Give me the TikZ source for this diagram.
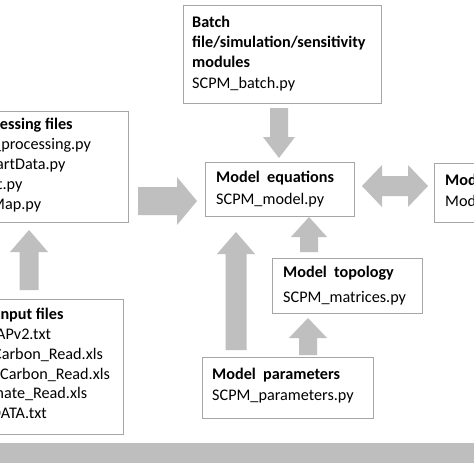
\documentclass[tikz,border=0pt]{standalone}
\usepackage{fontspec}
\setmainfont{Carlito}
\definecolor{boxc}{HTML}{A6A6A6}
\definecolor{arrc}{HTML}{BFBFBF}
\definecolor{barc}{HTML}{BEBEBE}
\newcommand\blkup[6]{\fill[arr] ({#1-#4},#3) -- ({#1-#4},{#2+#6}) -- ({#1-#5},{#2+#6}) -- (#1,#2) -- ({#1+#5},{#2+#6}) -- ({#1+#4},{#2+#6}) -- ({#1+#4},#3) -- cycle;}
\newcommand\blkdown[6]{\fill[arr] ({#1-#4},#2) -- ({#1-#4},{#3-#6}) -- ({#1-#5},{#3-#6}) -- (#1,#3) -- ({#1+#5},{#3-#6}) -- ({#1+#4},{#3-#6}) -- ({#1+#4},#2) -- cycle;}
\newcommand\blkright[6]{\fill[arr] (#2,{#1-#4}) -- ({#3-#6},{#1-#4}) -- ({#3-#6},{#1-#5}) -- (#3,#1) -- ({#3-#6},{#1+#5}) -- ({#3-#6},{#1+#4}) -- (#2,{#1+#4}) -- cycle;}
\newcommand\blkdouble[6]{\fill[arr] (#2,#1) -- ({#2+#6},{#1-#5}) -- ({#2+#6},{#1-#4}) -- ({#3-#6},{#1-#4}) -- ({#3-#6},{#1-#5}) -- (#3,#1) -- ({#3-#6},{#1+#5}) -- ({#3-#6},{#1+#4}) -- ({#2+#6},{#1+#4}) -- ({#2+#6},{#1+#5}) -- cycle;}
\begin{document}
\begin{tikzpicture}[x=1pt,y=-1pt,
  box/.style={draw=boxc, line width=0.9pt, fill=white, anchor=north west, inner sep=0pt},
  txt/.style={anchor=base west, inner sep=0pt, font=\fontsize{16.2}{19}\selectfont},
  bt/.style={anchor=base west, inner sep=0pt, font=\fontsize{16.2}{19}\selectfont\bfseries},
  arr/.style={fill=arrc}]
\useasboundingbox (0,0) rectangle (474,474);
\fill[white] (0,0) rectangle (474,474);
\clip (0,0) rectangle (474,474);

% block arrows
\blkright{201}{138}{197}{14}{24}{20}
\blkdown{279}{108}{158}{9}{16}{21}
\blkdouble{186}{362}{428}{10}{21}{20}
\blkup{236}{232}{350}{10.5}{19}{22}
\blkup{309}{217}{252}{9}{18}{20}
\blkup{308}{318}{355}{9}{19}{20}
\blkup{29}{230}{290}{9.5}{19}{22}

% boxes
\node[box, minimum width=198pt, minimum height=98pt] (batch) at (183,5) {};
\node[box, minimum width=133pt, minimum height=111pt] (pre) at (-5,111) {};
\node[box, minimum width=149pt, minimum height=54pt] (eq) at (205,162) {};
\node[box, minimum width=60pt, minimum height=59pt] (out) at (434,163) {};
\node[box, minimum width=150pt, minimum height=55pt] (topo) at (272,258) {};
\node[box, minimum width=171pt, minimum height=61pt] (par) at (202,357) {};
\node[box, minimum width=128pt, minimum height=135pt] (inp) at (-5,299) {};
\fill[barc] (0,443) rectangle (474,463);

% batch text
\node[bt] (b1) at (192,27) {Batch};
\node[bt] (b2) at (192,47) {file/simulation/sensitivity};
\node[bt] (b3) at (192,67) {modules};
\node[txt] (b4) at (192,88) {SCPM\_batch.py};

% model equations
\node[bt] (e1) at (216,182) {Model~ equations};
\node[txt] (e2) at (216,204) {SCPM\_model.py};

% topology
\node[bt] (t1) at (283,277) {Model~ topology};
\node[txt] (t2) at (283,302) {SCPM\_matrices.py};

% parameters
\node[bt] (p1) at (212,379) {Model~ parameters};
\node[txt] (p2) at (212,400) {SCPM\_parameters.py};

% right box
\node[bt] (o1) at (445,185) {Model};
\node[txt] (o2) at (445,206) {Model};

% preprocessing (cut at left)
\node[bt] (r1) at (-7,129) {cessing files};
\node[txt] (r2) at (-7,149) {\_processing.py};
\node[txt] (r3) at (-4,169) {artData.py};
\node[txt] (r4) at (-3,189) {t.py};
\node[txt] (r5) at (-9,209) {Map.py};

% input files (cut at left)
\node[bt] (i1) at (-4,319) {Input files};
\node[txt] (i2) at (-4,339) {APv2.txt};
\node[txt] (i3) at (-7,359) {Carbon\_Read.xls};
\node[txt] (i4) at (0,379) {Carbon\_Read.xls};
\node[txt] (i5) at (-9,398) {mate\_Read.xls};
\node[txt] (i6) at (-9,418) {DATA.txt};
\end{tikzpicture}
\end{document}
